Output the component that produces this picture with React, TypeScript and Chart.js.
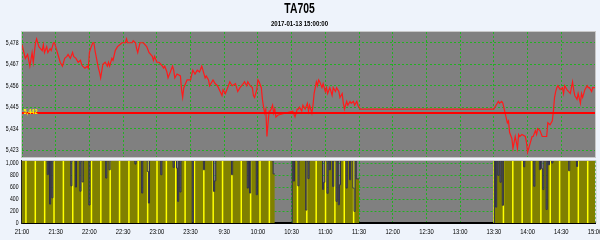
import React, { useEffect, useRef } from "react";
import { Chart, registerables } from "chart.js";
Chart.register(...registerables);

const chartTitle = "TA705";
const chartSubtitle = "2017-01-13 15:00:00";

// x axis: minutes since 21:00 with the overnight break removed (23:30 == 9:00)
const timeLabels = ["21:00", "21:30", "22:00", "22:30", "23:00", "23:30", "9:30", "10:00", "10:30", "11:00", "11:30", "12:00", "12:30", "13:00", "13:30", "14:00", "14:30", "15:00"];
const priceTicks = [5423, 5434, 5445, 5456, 5467, 5478];
const volTicks = [0, 200, 400, 600, 800, 1000];
const refPrice = 5442;
const fullLevel = 1035;
const sessions = [[0, 225], [240, 300], [420, 510]];

const nightPrice = [
  [0, 5477], [3, 5470], [5, 5472], [7, 5466], [9, 5473], [10, 5468], [12, 5478], [13, 5480], [14, 5478], [15, 5476],
  [18, 5474], [19, 5477], [20, 5473], [22, 5476], [23, 5473], [25, 5475], [26, 5474], [28, 5478], [29, 5478], [31, 5474],
  [32, 5472], [34, 5468], [36, 5466], [37, 5468], [38, 5470], [40, 5471], [41, 5472], [43, 5470], [45, 5473], [46, 5471],
  [48, 5470], [50, 5468], [52, 5469], [53, 5467], [54, 5466], [56, 5465], [58, 5466], [59, 5465], [60, 5473], [61, 5475],
  [63, 5478], [64, 5478], [65, 5474], [67, 5468], [68, 5465], [69, 5463], [70, 5460], [72, 5467], [74, 5468], [76, 5466],
  [77, 5468], [78, 5466], [80, 5470], [81, 5469], [83, 5474], [84, 5475], [85, 5476], [87, 5477], [89, 5478], [90, 5478],
  [92, 5478], [93, 5480], [94, 5478], [96, 5478], [98, 5478], [99, 5479], [101, 5478], [102, 5475], [103, 5473], [105, 5478],
  [107, 5478], [108, 5478], [111, 5476], [113, 5473], [116, 5471], [117, 5469], [118, 5471], [120, 5468], [122, 5468], [125, 5466],
  [126, 5465], [127, 5466], [129, 5463], [130, 5460], [132, 5463], [134, 5466], [135, 5464], [136, 5460], [138, 5462], [141, 5461],
  [142, 5454], [143, 5450], [144, 5455], [147, 5459], [150, 5459],
];
const morningPrice1 = [
  [152, 5464], [154, 5462], [156, 5464], [158, 5463], [160, 5466], [161, 5464], [163, 5460], [164, 5461], [166, 5459], [167, 5456],
  [170, 5459], [172, 5457], [174, 5456], [178, 5451], [179, 5454], [181, 5452], [183, 5455], [185, 5458], [187, 5456], [190, 5457],
  [191, 5455], [192, 5453], [194, 5455], [197, 5457], [198, 5458], [200, 5456], [201, 5458], [203, 5456], [205, 5455], [206, 5451],
  [207, 5450], [209, 5454], [210, 5459], [211, 5458], [213, 5455], [214, 5449], [215, 5445], [216, 5442], [217, 5444], [218, 5430],
  [219, 5437], [220, 5443], [221, 5443], [223, 5446], [224, 5442], [225, 5444], [226, 5440], [228, 5441],
];
const morningPrice2 = [
  [241, 5443], [243, 5440], [245, 5444], [246, 5444], [247, 5445], [249, 5443], [250, 5446], [252, 5444], [254, 5447], [255, 5443],
  [256, 5446], [258, 5442], [259, 5446], [260, 5452], [261, 5455], [262, 5458], [263, 5456], [264, 5459], [265, 5458], [267, 5455],
  [268, 5457], [270, 5453], [271, 5455], [272, 5452], [274, 5455], [276, 5451], [277, 5455], [279, 5453], [280, 5455], [282, 5453],
  [283, 5450], [285, 5452], [286, 5447], [287, 5444], [288, 5446], [289, 5448], [290, 5446], [292, 5448], [293, 5447], [295, 5448],
  [296, 5446], [298, 5448], [299, 5446], [301, 5444], [420, 5444],
];
const afternoonPrice = [
  [423, 5447], [424, 5448], [425, 5447], [427, 5448], [428, 5447], [430, 5442], [432, 5437], [433, 5438], [434, 5432], [436, 5429],
  [437, 5424], [439, 5430], [441, 5424], [442, 5431], [443, 5430], [445, 5431], [448, 5430], [449, 5427], [450, 5422], [452, 5426],
  [454, 5430], [455, 5430], [457, 5433], [458, 5431], [459, 5434], [461, 5433], [463, 5430], [467, 5430], [468, 5437], [470, 5436],
  [472, 5438], [473, 5443], [474, 5450], [475, 5453], [476, 5455], [477, 5456], [479, 5454], [481, 5455], [482, 5452], [483, 5456],
  [485, 5454], [488, 5452], [490, 5458], [491, 5454], [492, 5451], [494, 5449], [495, 5452], [497, 5447], [498, 5452], [499, 5450],
  [501, 5454], [503, 5456], [504, 5455], [505, 5455], [507, 5453], [508, 5455], [510, 5455],
];

// indicator dips below its full level: [minute, value]
const indicatorDips = [
  [23, 808], [25, 315], [27, 420], [44, 620], [48, 600], [52, 530], [54, 685], [60, 300], [75, 750], [78, 888],
  [101, 983], [107, 500], [112, 860], [113, 333], [124, 805], [135, 927], [138, 917], [139, 360], [141, 517], [152, 0],
  [162, 888], [171, 527], [172, 705], [187, 805], [201, 583], [203, 500], [209, 472], [224, 820], [225, 820],
  [240, 0], [242, 700], [246, 620], [253, 215], [255, 740], [268, 560], [269, 680], [272, 495], [274, 888], [277, 610],
  [280, 360], [282, 305], [283, 638], [289, 583], [292, 722], [295, 583], [296, 193], [298, 738], [299, 738], [300, 738],
  [420, 0], [422, 265], [424, 795], [426, 680], [428, 295], [447, 938], [456, 613], [461, 890], [463, 905], [464, 558],
  [467, 225], [469, 972], [472, 1000], [487, 872], [494, 943],
];

const FONT = "'Liberation Sans', Arial, sans-serif";
const GRID = "#22b022";
const fmt = (v: number) => Number(v).toLocaleString("en-US");

function drawText(ctx: CanvasRenderingContext2D, text: string, x: number, y: number, size: number, bold: boolean, align: CanvasTextAlign, color: string, sx: number) {
  ctx.save();
  ctx.translate(x, y);
  ctx.scale(sx, 1);
  ctx.font = `${bold ? "bold " : ""}${size}px ${FONT}`;
  ctx.fillStyle = color;
  ctx.textAlign = align;
  ctx.textBaseline = "middle";
  ctx.fillText(text, 0, 0);
  ctx.restore();
}

export default function App() {
  const topRef = useRef<HTMLCanvasElement>(null);
  const botRef = useRef<HTMLCanvasElement>(null);

  useEffect(() => {
    const pricePoints = [...nightPrice, ...morningPrice1, ...morningPrice2, ...afternoonPrice].map(([x, y]) => ({ x, y }));
    const dipMap = new Map(indicatorDips.map(([m, v]) => [m, v]));
    const inSession = (m: number) => sessions.some(([s, e]) => m >= s && m <= e);
    const volData: any[] = [];
    for (let m = 0; m <= 510; m++) {
      volData.push({ x: m, y: inSession(m) ? (dipMap.has(m) ? dipMap.get(m) : fullLevel) : null });
    }

    const plotBg = {
      id: "plotBg",
      beforeDraw(chart: any) {
        const { ctx, chartArea: a } = chart;
        ctx.save();
        ctx.fillStyle = "#808080";
        ctx.fillRect(a.left, a.top, a.right - a.left, a.bottom - a.top);
        ctx.restore();
      },
    };

    const yLabels = (ticks: number[]) => ({
      id: "yLabels",
      afterDraw(chart: any) {
        const { ctx, scales } = chart;
        for (const v of ticks) {
          drawText(ctx, fmt(v), 18.5, scales.y.getPixelForValue(v), 7.5, false, "right", "#000", 0.68);
        }
      },
    });

    const topDeco = {
      id: "topDeco",
      afterDatasetsDraw(chart: any) {
        const { ctx, chartArea: a, scales } = chart;
        const y = scales.y.getPixelForValue(refPrice);
        drawText(ctx, fmt(refPrice), a.left + 1.5, y - 1.5, 8, true, "left", "#ffff00", 0.7);
      },
      afterDraw(chart: any) {
        const { ctx, chartArea: a } = chart;
        ctx.save();
        ctx.strokeStyle = "#c8c8c8";
        ctx.lineWidth = 1;
        ctx.strokeRect(Math.round(a.left) - 0.5, Math.round(a.top) - 0.5, Math.round(a.right - a.left) + 1, Math.round(a.bottom - a.top) + 1);
        ctx.restore();
        drawText(ctx, chartTitle, 299.5, 9.5, 14, true, "center", "#000", 0.74);
        drawText(ctx, chartSubtitle, 299.5, 24, 8, true, "center", "#000", 0.76);
      },
    };

    const top = new Chart(topRef.current as HTMLCanvasElement, {
      type: "line",
      data: {
        datasets: [
          { label: "ref", data: [{ x: 0, y: refPrice }, { x: 510, y: refPrice }], borderColor: "#ff0000", borderWidth: 2, pointRadius: 0, order: 0 },
          { label: "price", data: pricePoints, borderColor: "#ff1a1a", borderWidth: 1.2, pointRadius: 0, tension: 0, order: 1 },
        ],
      } as any,
      options: {
        responsive: false,
        animation: false,
        layout: { padding: { top: 32, left: 0, right: 5, bottom: 83 } },
        plugins: { legend: { display: false }, tooltip: { enabled: false } },
        scales: {
          x: {
            type: "linear", min: 0, max: 510,
            ticks: { display: false, stepSize: 30 },
            grid: { color: GRID, drawTicks: false },
            border: { display: false, dash: [2, 2] },
            afterFit(s: any) { s.height = 0; s.paddingLeft = 0; s.paddingRight = 0; },
          },
          y: {
            min: 5419.5, max: 5483.5,
            afterBuildTicks(s: any) { s.ticks = priceTicks.map((v) => ({ value: v })); },
            ticks: { display: false },
            grid: { color: GRID, drawTicks: false },
            border: { display: false, dash: [2, 2] },
            afterFit(s: any) { s.width = 22; s.paddingTop = 0; s.paddingBottom = 0; },
          },
        },
      } as any,
      plugins: [plotBg, topDeco, yLabels(priceTicks)],
    });

    const botDeco = {
      id: "botDeco",
      afterDatasetDraw(chart: any, args: any) {
        if (args.index !== 0) return;
        const { ctx, chartArea: a, scales } = chart;
        const step = 25 / 3;
        ctx.save();
        ctx.strokeStyle = "#ffff00";
        ctx.lineWidth = 1.5;
        for (const [s, e] of sessions) {
          for (let k = 0; k < 80; k++) {
            const t = 3.5 + k * step;
            if (t <= s || t >= e) continue;
            const x = scales.x.getPixelForValue(t);
            ctx.beginPath();
            ctx.moveTo(x, a.top);
            ctx.lineTo(x, a.bottom);
            ctx.stroke();
          }
        }
        ctx.restore();
      },
      afterDraw(chart: any) {
        const { ctx, chartArea: a, scales } = chart;
        ctx.save();
        ctx.strokeStyle = "#c8c8c8";
        ctx.lineWidth = 1;
        ctx.beginPath();
        ctx.moveTo(a.left, Math.round(a.top) - 0.5);
        ctx.lineTo(a.right + 1, Math.round(a.top) - 0.5);
        ctx.lineTo(a.right + 1, a.bottom);
        ctx.stroke();
        ctx.restore();
        timeLabels.forEach((t, i) => {
          drawText(ctx, t, scales.x.getPixelForValue(i * 30), 231.5, 7.5, false, "center", "#000", 0.78);
        });
      },
    };

    const bot = new Chart(botRef.current as HTMLCanvasElement, {
      type: "line",
      data: {
        datasets: [
          { label: "fill", data: volData, stepped: "middle", borderWidth: 0, borderColor: "rgba(0,0,0,0)", pointRadius: 0, fill: "origin", backgroundColor: "#808000", spanGaps: false, order: 2 },
          {
            label: "line", data: volData, stepped: "middle", borderWidth: 1, borderColor: "#2e2e4a", pointRadius: 0, fill: false, spanGaps: false, order: 1,
            segment: { borderColor: (c: any) => (c.p0.parsed.y >= fullLevel && c.p1.parsed.y >= fullLevel ? "rgba(0,0,0,0)" : undefined) },
          },
        ],
      } as any,
      options: {
        responsive: false,
        animation: false,
        layout: { padding: { top: 161, left: 0, right: 5, bottom: 0 } },
        plugins: { legend: { display: false }, tooltip: { enabled: false } },
        scales: {
          x: {
            type: "linear", min: 0, max: 510,
            ticks: { display: false, stepSize: 30 },
            grid: { color: GRID, drawTicks: false },
            border: { display: true, color: "#000", width: 2, dash: [2, 2] },
            afterFit(s: any) { s.height = 17; s.paddingLeft = 0; s.paddingRight = 0; },
          },
          y: {
            min: 0, max: fullLevel,
            afterBuildTicks(s: any) { s.ticks = volTicks.map((v) => ({ value: v })); },
            ticks: { display: false },
            grid: { color: GRID, drawTicks: false },
            border: { display: true, color: "#222", width: 1.5, dash: [2, 2] },
            afterFit(s: any) { s.width = 22; s.paddingTop = 0; s.paddingBottom = 0; },
          },
        },
      } as any,
      plugins: [plotBg, botDeco, yLabels(volTicks)],
    });

    return () => { top.destroy(); bot.destroy(); };
  }, []);

  return (
    <div style={{ position: "absolute", left: 0, top: 0, width: 600, height: 240, background: "#eef3fb", overflow: "hidden" }}>
      <canvas ref={topRef} width={600} height={240} style={{ position: "absolute", left: 0, top: 0 }} />
      <canvas ref={botRef} width={600} height={240} style={{ position: "absolute", left: 0, top: 0 }} />
    </div>
  );
}
